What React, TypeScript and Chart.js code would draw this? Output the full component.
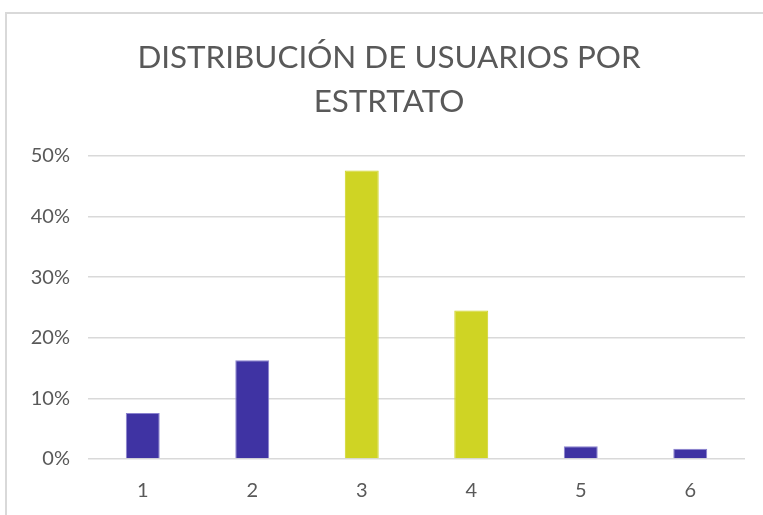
import React, { useEffect, useRef } from "react";
import { Chart, registerables } from "chart.js";

Chart.register(...registerables);

const categories = ["1", "2", "3", "4", "5", "6"];
const shares = [0.076, 0.163, 0.476, 0.245, 0.021, 0.017];
const barColors = ["#3F33A3", "#3F33A3", "#CFD424", "#CFD424", "#3F33A3", "#3F33A3"];
const barBorders = ["#8A82CF", "#8A82CF", "#CFD424", "#CFD424", "#8A82CF", "#8A82CF"];
const titleLines = ["DISTRIBUCIÓN DE USUARIOS POR", "ESTRTATO"];

const titlePlugin = {
  id: "centeredTitle",
  afterDraw(chart: any) {
    const ctx = chart.ctx;
    ctx.save();
    ctx.fillStyle = "#595959";
    ctx.font = "400 31.4px Lato";
    ctx.textAlign = "center";
    ctx.textBaseline = "alphabetic";
    titleLines.forEach((line, i) => {
      ctx.fillText(line, 389, 68 + i * 44);
    });
    ctx.restore();
  },
};

export default function App() {
  const ref = useRef<HTMLCanvasElement | null>(null);

  useEffect(() => {
    if (!ref.current) return;
    const chart = new Chart(ref.current, {
      type: "bar",
      data: {
        labels: categories,
        datasets: [
          {
            data: shares,
            backgroundColor: barColors,
            borderColor: barBorders,
            borderWidth: 1,
            categoryPercentage: 1,
            barPercentage: 0.31,
          },
        ],
      },
      plugins: [titlePlugin],
      options: {
        animation: false,
        responsive: false,
        maintainAspectRatio: false,
        layout: { padding: { left: 0, right: 18, top: 156, bottom: 0 } },
        plugins: {
          legend: { display: false },
          tooltip: { enabled: false },
          title: { display: false },
        },
        scales: {
          x: {
            afterFit: (s: any) => {
              s.height = 56;
            },
            grid: { display: false, drawTicks: false },
            border: { display: false },
            ticks: {
              color: "#595959",
              font: { family: "Lato", size: 20 },
              padding: 20,
            },
          },
          y: {
            min: 0,
            max: 0.5,
            afterFit: (s: any) => {
              s.width = 88;
            },
            grid: { color: "#D9D9D9", lineWidth: 1.5, drawTicks: false },
            border: { display: false },
            ticks: {
              stepSize: 0.1,
              color: "#595959",
              font: { family: "Lato", size: 20 },
              padding: 18,
              callback: (v: any) => Math.round(Number(v) * 100) + "%",
            },
          },
        },
      },
    });
    return () => chart.destroy();
  }, []);

  return (
    <div
      style={{
        position: "fixed",
        left: 0,
        top: 0,
        width: 763,
        height: 515,
        overflow: "hidden",
        background: "#fff",
      }}
    >
      <div
        style={{
          position: "absolute",
          left: 5,
          top: 12,
          width: 900,
          height: 700,
          border: "2px solid #D9D9D9",
        }}
      />
      <canvas
        ref={ref}
        width={763}
        height={515}
        style={{ position: "absolute", left: 0, top: 0 }}
      />
    </div>
  );
}
